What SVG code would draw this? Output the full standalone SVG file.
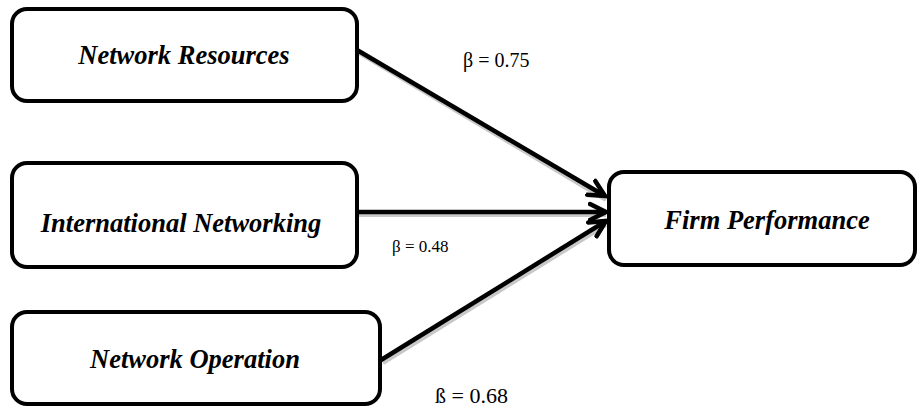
<svg xmlns="http://www.w3.org/2000/svg" width="918" height="407" viewBox="0 0 918 407">
<style>
.box{fill:#fff;stroke:#000;stroke-width:4}
.lbl{font-family:"Liberation Serif","Times New Roman",serif;font-weight:bold;font-style:italic;font-size:26.5px;fill:#000;text-anchor:middle}
.beta{font-family:"Liberation Serif","Times New Roman",serif;fill:#000}
.conn{stroke:#000;stroke-width:4.5;fill:none}
.shadow{stroke:#c8c8c8;stroke-width:4;fill:none}
</style>
<defs>
<marker id="arr" markerUnits="userSpaceOnUse" markerWidth="24" markerHeight="24" refX="18" refY="10" orient="auto" viewBox="0 0 24 20">
<path d="M2,2 L18,10 L2,18" fill="none" stroke="#000" stroke-width="4.5" stroke-linecap="round" stroke-linejoin="miter"/>
</marker>
</defs>
<g id="connectors">
<line class="shadow" x1="359" y1="53" x2="606" y2="200"/>
<line class="shadow" x1="359" y1="215" x2="606" y2="215"/>
<line class="shadow" x1="383" y1="363" x2="606" y2="225"/>
<line class="conn" x1="357" y1="50" x2="605" y2="196" marker-end="url(#arr)"/>
<line class="conn" x1="357" y1="212" x2="606" y2="212" marker-end="url(#arr)"/>
<line class="conn" x1="381" y1="360" x2="606" y2="221" marker-end="url(#arr)"/>
</g>
<g id="node-network-resources">
<rect class="box" x="12" y="9" width="345" height="92" rx="15"/>
<text class="lbl" x="184" y="64">Network Resources</text>
</g>
<g id="node-international-networking">
<rect class="box" x="12" y="163" width="345" height="104" rx="15"/>
<text class="lbl" x="181" y="232">International Networking</text>
</g>
<g id="node-network-operation">
<rect class="box" x="12" y="312" width="368" height="92" rx="15"/>
<text class="lbl" x="195" y="368">Network Operation</text>
</g>
<g id="node-firm-performance">
<rect class="box" x="609" y="172" width="306" height="93" rx="15"/>
<text class="lbl" x="767" y="229">Firm Performance</text>
</g>
<g id="labels">
<text class="beta" x="463" y="67" font-size="20">β = 0.75</text>
<text class="beta" x="392" y="252" font-size="17">β = 0.48</text>
<text class="beta" x="435" y="403" font-size="22">ß = 0.68</text>
</g>
</svg>
